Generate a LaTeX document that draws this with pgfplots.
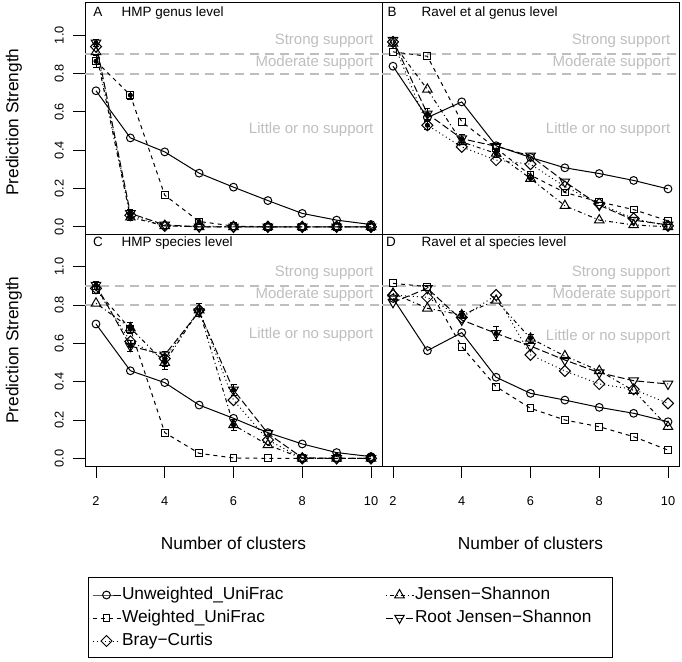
\documentclass[border=0pt]{standalone}
\usepackage{fontspec}
\setmainfont{Liberation Sans}
\usepackage{pgfplots}
\pgfplotsset{compat=1.18}
\definecolor{rgray}{HTML}{BEBEBE}
\newcommand{\tickfont}{\fontsize{12.8}{15}\selectfont}
\newcommand{\labfont}{\fontsize{17.3}{20}\selectfont}
\newcommand{\titfont}{\fontsize{13.5}{16}\selectfont}
\newcommand{\supfont}{\fontsize{15}{18}\selectfont}
\tikzset{thr/.style={rgray, line width=2pt, dash pattern=on 9pt off 6pt}}
\pgfplotsset{
  legend image code/.code={\draw[mark repeat=2,mark phase=2,#1] plot coordinates {(0pt,0pt) (14pt,0pt) (28pt,0pt)};},
}
\pgfplotsset{
  panel/.style={
    scale only axis, width=297pt, height=231.5pt,
    xmin=1.68, xmax=10.32, ymin=-0.04, ymax=1.168,
    axis line style={line width=1pt, black},
    tick align=outside, major tick length=12pt,
    tick style={line width=1pt, black},
    xtick pos=bottom, ytick pos=left,
    xtick=\empty, ytick=\empty,
    clip=false,
    /pgf/number format/assume math mode=true,
    ticklabel style={font=\tickfont, inner sep=0pt},
    yticklabel style={xshift=-9pt, rotate=90, anchor=south},
    xticklabel style={anchor=north},
    xticklabel shift=18.3pt,
    every axis plot/.append style={line width=1pt, black},
    legend cell align=left,
    legend style={draw=none, fill=none, anchor=north west, inner sep=0pt, outer sep=0pt,
      row sep=7pt, font=\labfont,
      nodes={inner sep=0pt, text height=12.5pt, text depth=3.5pt},
      /tikz/every odd column/.append style={column sep=1pt}},
  },
  yax/.style={ytick={0,0.2,0.4,0.6,0.8,1}, yticklabels={0.0,0.2,0.4,0.6,0.8,1.0}},
  xax/.style={xtick={2,4,6,8,10}, xticklabels={2,4,6,8,10}},
  uw/.style={solid, mark=o, mark size=3.9pt, mark options={solid, line width=1pt}},
  wu/.style={dash pattern=on 4pt off 4pt, mark=square, mark size=3.4pt, mark options={solid, line width=1pt}},
  bc/.style={dash pattern=on 1pt off 3pt, mark=square, mark size=3.9pt, mark options={solid, line width=1pt, rotate=45}},
  js/.style={dash pattern=on 1pt off 3pt on 4pt off 3pt, mark=triangle, mark size=5.5pt, mark options={solid, line width=1pt}},
  rjs/.style={dash pattern=on 7pt off 3pt, mark=triangle, mark size=5.5pt, mark options={solid, line width=1pt, rotate=180}},
  eb/.style={only marks, mark=none, forget plot, error bars/.cd, y dir=both, y explicit,
    error bar style={line width=0.8pt, black, solid},
    error mark options={rotate=90, mark size=3pt, line width=0.8pt, black, solid}},
}
\newcommand{\support}[1]{%
  \draw[thr] (axis cs:1.68,0.9) -- (axis cs:10.32,0.9);
  \draw[thr] (axis cs:1.68,0.8) -- (axis cs:10.32,0.8);
  \node[rgray, font=\supfont, anchor=east, inner sep=0pt] at (axis cs:10.07,0.97) {Strong support};
  \node[rgray, font=\supfont, anchor=east, inner sep=0pt] at (axis cs:10.07,0.855) {Moderate support};
  \node[rgray, font=\supfont, anchor=east, inner sep=0pt] at (axis cs:10.07,#1) {Little or no support};
}
\begin{document}
\begin{tikzpicture}
\useasboundingbox (0pt,0pt) rectangle (682pt,661pt);

% ---------- Panel A ----------
\begin{axis}[panel, yax, at={(85pt,426.5pt)}, anchor=south west]
\support{0.509}
\addplot[uw] coordinates {(2,0.710)(3,0.464)(4,0.391)(5,0.280)(6,0.207)(7,0.137)(8,0.070)(9,0.035)(10,0.012)};
\addplot[wu] coordinates {(2,0.864)(3,0.687)(4,0.165)(5,0.028)(6,0.004)(7,0.0)(8,0.0)(9,0.0)(10,0.0)};
\addplot[bc] coordinates {(2,0.940)(3,0.060)(4,0.005)(5,0.003)(6,0.0)(7,0.0)(8,0.0)(9,0.0)(10,0.0)};
\addplot[js] coordinates {(2,0.913)(3,0.050)(4,0.005)(5,0.0)(6,0.0)(7,0.0)(8,0.0)(9,0.0)(10,0.0)};
\addplot[rjs] coordinates {(2,0.960)(3,0.070)(4,0.010)(5,0.0)(6,0.0)(7,0.0)(8,0.0)(9,0.0)(10,0.0)};
\addplot[eb] coordinates {(2,0.864) +- (0,0.03) (3,0.687) +- (0,0.02) (5,0.028) +- (0,0.015) (3,0.05) +- (0,0.015) (3,0.07) +- (0,0.02) (2,0.96) +- (0,0.02)};
\end{axis}

% ---------- Panel B ----------
\begin{axis}[panel, at={(382pt,426.5pt)}, anchor=south west]
\support{0.509}
\addplot[uw] coordinates {(2,0.838)(3,0.570)(4,0.652)(5,0.423)(6,0.362)(7,0.308)(8,0.278)(9,0.242)(10,0.198)};
\addplot[wu] coordinates {(2,0.913)(3,0.890)(4,0.548)(5,0.410)(6,0.270)(7,0.179)(8,0.130)(9,0.090)(10,0.031)};
\addplot[bc] coordinates {(2,0.965)(3,0.530)(4,0.417)(5,0.348)(6,0.327)(7,0.210)(8,0.120)(9,0.043)(10,0.005)};
\addplot[js] coordinates {(2,0.957)(3,0.717)(4,0.443)(5,0.383)(6,0.252)(7,0.110)(8,0.035)(9,0.010)(10,0.0)};
\addplot[rjs] coordinates {(2,0.974)(3,0.590)(4,0.460)(5,0.420)(6,0.370)(7,0.235)(8,0.113)(9,0.035)(10,0.010)};
\addplot[eb] coordinates {(3,0.59) +- (0,0.03) (3,0.53) +- (0,0.02) (4,0.46) +- (0,0.02) (5,0.383) +- (0,0.02) (6,0.252) +- (0,0.015)};
\end{axis}

% ---------- Panel C ----------
\begin{axis}[panel, yax, xax, at={(85pt,195pt)}, anchor=south west,
  legend style={at={(0.02357,-0.5227)}}]
\support{0.647}
\addplot[uw] coordinates {(2,0.701)(3,0.457)(4,0.395)(5,0.278)(6,0.209)(7,0.134)(8,0.075)(9,0.030)(10,0.009)};
\addlegendentry{Unweighted\_UniFrac}
\addplot[wu] coordinates {(2,0.880)(3,0.675)(4,0.134)(5,0.026)(6,0.002)(7,0.0)(8,0.0)(9,0.0)(10,0.0)};
\addlegendentry{Weighted\_UniFrac}
\addplot[bc] coordinates {(2,0.887)(3,0.610)(4,0.520)(5,0.774)(6,0.304)(7,0.096)(8,0.0)(9,0.0)(10,0.0)};
\addlegendentry{Bray−Curtis}
\addplot[js, forget plot] coordinates {(2,0.809)(3,0.680)(4,0.500)(5,0.774)(6,0.174)(7,0.070)(8,0.0)(9,0.0)(10,0.0)};
\addplot[rjs, forget plot] coordinates {(2,0.904)(3,0.586)(4,0.540)(5,0.765)(6,0.357)(7,0.130)(8,0.003)(9,0.0)(10,0.0)};
\addplot[eb] coordinates {(3,0.68) +- (0,0.03) (3,0.586) +- (0,0.03) (3,0.675) +- (0,0.02) (4,0.52) +- (0,0.04) (4,0.5) +- (0,0.035) (5,0.774) +- (0,0.035) (6,0.357) +- (0,0.03) (6,0.174) +- (0,0.03) (2,0.904) +- (0,0.02)};
\end{axis}

% ---------- Panel D ----------
\begin{axis}[panel, xax, at={(382pt,195pt)}, anchor=south west,
  legend style={at={(0.0101,-0.5227)}}]
\support{0.634}
\addplot[js] coordinates {(2,0.861)(3,0.783)(4,0.748)(5,0.824)(6,0.626)(7,0.534)(8,0.457)(9,0.353)(10,0.165)};
\addlegendentry{Jensen−Shannon}
\addplot[rjs] coordinates {(2,0.814)(3,0.887)(4,0.722)(5,0.652)(6,0.586)(7,0.513)(8,0.447)(9,0.405)(10,0.388)};
\addlegendentry{Root Jensen−Shannon}
\addplot[uw, forget plot] coordinates {(2,0.835)(3,0.562)(4,0.656)(5,0.423)(6,0.339)(7,0.304)(8,0.266)(9,0.235)(10,0.191)};
\addplot[wu, forget plot] coordinates {(2,0.913)(3,0.896)(4,0.583)(5,0.374)(6,0.261)(7,0.200)(8,0.165)(9,0.113)(10,0.043)};
\addplot[bc, forget plot] coordinates {(2,0.852)(3,0.840)(4,0.735)(5,0.852)(6,0.540)(7,0.456)(8,0.388)(9,0.360)(10,0.287)};
\addplot[eb] coordinates {(5,0.652) +- (0,0.035) (4,0.748) +- (0,0.02) (6,0.626) +- (0,0.02)};
\end{axis}

% ---------- texts ----------
\node[font=\titfont, anchor=base] at (98pt,644pt) {A};
\node[font=\titfont, anchor=base west, inner sep=0pt] at (121.5pt,644pt) {HMP genus level};
\node[font=\titfont, anchor=base] at (392pt,644pt) {B};
\node[font=\titfont, anchor=base west, inner sep=0pt] at (421.5pt,644pt) {Ravel et al genus level};
\node[font=\titfont, anchor=base] at (98pt,414pt) {C};
\node[font=\titfont, anchor=base west, inner sep=0pt] at (121.5pt,414pt) {HMP species level};
\node[font=\titfont, anchor=base] at (391pt,414pt) {D};
\node[font=\titfont, anchor=base west, inner sep=0pt] at (421.5pt,414pt) {Ravel et al species level};

\node[font=\labfont, rotate=90, inner sep=0pt] at (14pt,539pt) {Prediction Strength};
\node[font=\labfont, rotate=90, inner sep=0pt] at (14pt,311pt) {Prediction Strength};
\node[font=\labfont, inner sep=0pt] at (233.5pt,118pt) {Number of clusters};
\node[font=\labfont, inner sep=0pt] at (530.5pt,118pt) {Number of clusters};

\draw[line width=1pt] (88pt,84pt) rectangle (612pt,4pt);
\end{tikzpicture}
\end{document}
